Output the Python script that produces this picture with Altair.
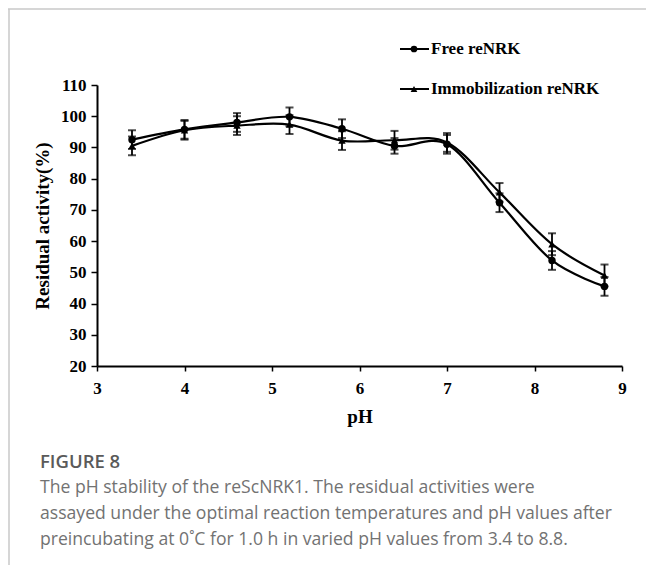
import altair as alt
import pandas as pd

ph = [3.4, 4.0, 4.6, 5.2, 5.8, 6.4, 7.0, 7.6, 8.2, 8.8]
free_vals = [92.5, 95.8, 98.0, 99.8, 96.0, 90.5, 91.0, 72.3, 53.8, 45.5]
free_err = [3.0, 3.0, 3.0, 3.0, 3.0, 2.5, 3.0, 3.0, 3.0, 3.0]
immo_vals = [90.5, 95.5, 97.0, 97.3, 92.2, 92.3, 91.6, 75.6, 59.0, 49.0]
immo_err = [3.0, 3.0, 3.0, 3.0, 3.0, 3.0, 3.0, 3.0, 3.5, 3.5]
series_names = ["Free reNRK", "Immobilization reNRK"]
x_ticks = [3, 4, 5, 6, 7, 8, 9]
y_ticks = [20, 30, 40, 50, 60, 70, 80, 90, 100, 110]
caption_head = "FIGURE 8"
caption_lines = [
    "The pH stability of the reScNRK1. The residual activities were",
    "assayed under the optimal reaction temperatures and pH values after",
    "preincubating at 0\u02daC for 1.0 h in varied pH values from 3.4 to 8.8.",
]

rows = []
for name, vals, errs in [(series_names[0], free_vals, free_err),
                         (series_names[1], immo_vals, immo_err)]:
    for p, v, e in zip(ph, vals, errs):
        rows.append({"pH": p, "act": v, "lo": v - e, "hi": v + e, "series": name})
df = pd.DataFrame(rows)
one = pd.DataFrame({"k": [0]})

SERIF = "Liberation Serif"
W, H = 525, 281

xs = alt.Scale(domain=[3, 9], nice=False, zero=False)
ys = alt.Scale(domain=[20, 110], nice=False, zero=False)

x_axis = alt.Axis(values=x_ticks, title="pH", labelFont=SERIF, labelFontSize=17,
                  labelFontWeight="bold", labelColor="black", titleFont=SERIF,
                  titleFontSize=19, titleFontWeight="bold", titleColor="black",
                  domainColor="black", domainWidth=2, tickColor="black", tickWidth=1.5,
                  tickSize=5, grid=False, labelPadding=9, titlePadding=11, format="d",
                  labelOverlap=False, labelFlush=False, labelBound=False)
y_axis = alt.Axis(values=y_ticks, title="Residual activity(%)", labelFont=SERIF,
                  labelFontSize=17, labelFontWeight="bold", labelColor="black",
                  titleFont=SERIF, titleFontSize=19, titleFontWeight="bold",
                  titleColor="black", domainColor="black", domainWidth=2,
                  tickColor="black", tickWidth=1.5, tickSize=6, grid=False,
                  labelPadding=5, titlePadding=8, format="d",
                  labelOverlap=False, labelFlush=False, labelBound=False)

X = alt.X("pH:Q", scale=xs, axis=x_axis)

base = alt.Chart(df)
shape_scale = alt.Scale(domain=series_names, range=["circle", "triangle-up"])

bars = base.mark_rule(color="black", strokeWidth=1.8).encode(
    x=X,
    y=alt.Y("lo:Q", scale=ys, axis=y_axis),
    y2="hi:Q",
)
cap_lo = base.mark_tick(color="black", thickness=2, size=8, orient="horizontal").encode(
    x=X, y=alt.Y("lo:Q", scale=ys, axis=y_axis))
cap_hi = base.mark_tick(color="black", thickness=2, size=8, orient="horizontal").encode(
    x=X, y=alt.Y("hi:Q", scale=ys, axis=y_axis))
lines = base.mark_line(color="black", strokeWidth=2.2, interpolate="cardinal").encode(
    x=X,
    y=alt.Y("act:Q", scale=ys, axis=y_axis),
    detail="series:N",
)
points = base.mark_point(filled=True, color="black", size=55, opacity=1).encode(
    x=X,
    y=alt.Y("act:Q", scale=ys, axis=y_axis),
    shape=alt.Shape("series:N", scale=shape_scale, legend=None),
)

# manual legend (line + marker + label)
leg = []
for name, shp, yy in [(series_names[0], "circle", -36),
                      (series_names[1], "triangle-up", 4)]:
    leg.append(alt.Chart(one).mark_rule(color="black", strokeWidth=2).encode(
        x=alt.value(303), x2=alt.value(332), y=alt.value(yy)))
    leg.append(alt.Chart(one).mark_point(filled=True, color="black", size=45, opacity=1,
                                         shape=shp).encode(
        x=alt.value(317), y=alt.value(yy)))
    leg.append(alt.Chart(one).mark_text(text=name, font=SERIF, fontSize=17,
                                        fontWeight="bold", align="left",
                                        baseline="middle", color="black").encode(
        x=alt.value(334), y=alt.value(yy)))

# figure frame lines
frame_top = alt.Chart(one).mark_rule(color="#c8c8c8", strokeWidth=1.5).encode(
    x=alt.value(-89), x2=alt.value(560), y=alt.value(-76))
frame_left = alt.Chart(one).mark_rule(color="#c8c8c8", strokeWidth=1.5).encode(
    x=alt.value(-88), y=alt.value(-76), y2=alt.value(490))

cap = [alt.Chart(one).mark_text(text=caption_head, font="Open Sans", fontSize=18.5,
                                fontWeight=600, align="left", baseline="alphabetic",
                                color="#5a5a5a").encode(
    x=alt.value(-57), y=alt.value(383))]
for j, line in enumerate(caption_lines):
    cap.append(alt.Chart(one).mark_text(text=line, font="Open Sans", fontSize=17.6,
                                        fontWeight="normal", align="left",
                                        baseline="alphabetic", color="#727272").encode(
        x=alt.value(-57), y=alt.value(408 + 26 * j)))

chart = alt.layer(
    bars, cap_lo, cap_hi, lines, points, frame_top, frame_left, *leg, *cap
).properties(
    width=W, height=H,
    autosize=alt.AutoSizeParams(type="none"),
    padding={"left": 97, "top": 85, "right": 24, "bottom": 199},
    background="white",
).configure_view(stroke=None)

chart.save("out.html", embed_options={"renderer": "svg", "actions": False})
